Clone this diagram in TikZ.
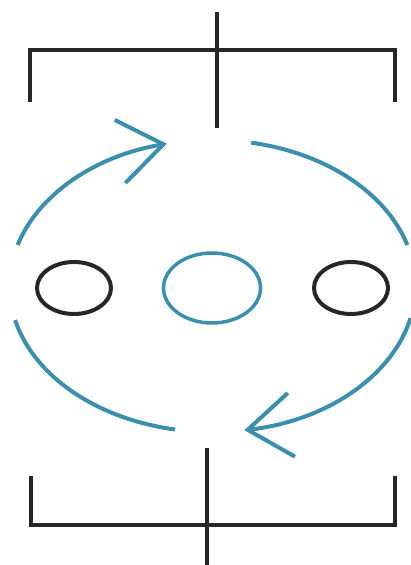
\documentclass[tikz,border=0pt]{standalone}
\usepackage{xcolor}
\usepackage{tikz}
\usetikzlibrary{shapes.geometric, arrows.meta}
\definecolor{bracketgray}{HTML}{262626}
\definecolor{cycleblue}{HTML}{3A8FAE}
\tikzstyle{bracket} = [draw=bracketgray, line width=4pt]
\tikzstyle{dark} = [ellipse, draw=bracketgray, line width=4pt, minimum width=74pt, minimum height=52pt, inner sep=0pt]
\tikzstyle{core} = [ellipse, draw=cycleblue, line width=3.5pt, minimum width=97pt, minimum height=70pt, inner sep=0pt]
\tikzstyle{cycle} = [draw=cycleblue, line width=4pt]
\tikzstyle{arrow} = [cycle, -{Straight Barb[length=44pt, width=64pt, line width=4pt]}]

\begin{document}
\begin{tikzpicture}[x=1pt, y=1pt]
    \useasboundingbox (0,0) rectangle (411,565);

    \node (left) [dark] at (74,277) {};
    \node (mid) [core] at (212,277) {};
    \node (right) [dark] at (351,277) {};

    % top bracket
    \coordinate (tl) at (30,463);
    \coordinate (tr) at (395,463);
    \coordinate (ttop) at (217,553);
    \coordinate (tbot) at (217,437);
    \draw [bracket] (tl) |- (217,515) -| (tr);
    \draw [bracket] (ttop) -- (tbot);

    % bottom bracket
    \coordinate (bl) at (31,89);
    \coordinate (br) at (395,89);
    \coordinate (btop) at (207,117);
    \coordinate (bbot) at (207,0);
    \draw [bracket] (bl) |- (207,40) -| (br);
    \draw [bracket] (btop) -- (bbot);

    % cycle
    \coordinate (c) at (212.5,279);
    \draw [arrow] ([shift={(163.7:203 and 146)}]c) arc[start angle=163.7, end angle=103, x radius=203, y radius=146];
    \draw [cycle] ([shift={(79:203 and 146)}]c) arc[start angle=79, end angle=16.3, x radius=203, y radius=146];
    \draw [arrow] ([shift={(-12.7:203 and 146)}]c) arc[start angle=-12.7, end angle=-81, x radius=203, y radius=146];
    \draw [cycle] ([shift={(-100.6:203 and 146)}]c) arc[start angle=-100.6, end angle=-166.5, x radius=203, y radius=146];
\end{tikzpicture}
\end{document}
